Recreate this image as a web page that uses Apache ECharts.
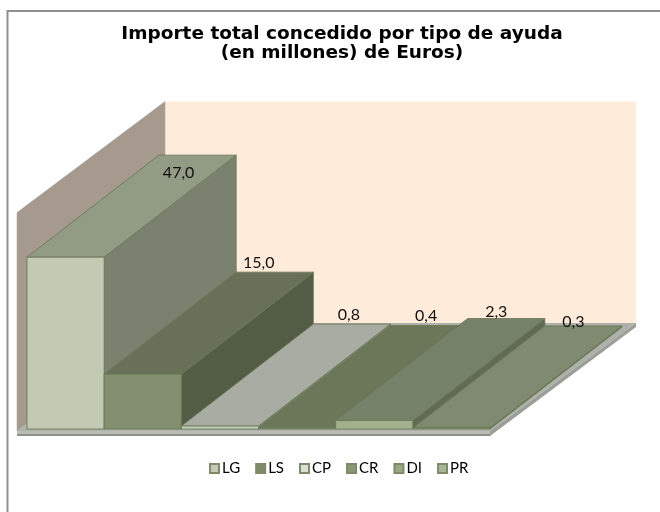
<!DOCTYPE html>
<html>
<head>
<meta charset="utf-8">
<script src="https://cdn.jsdelivr.net/npm/echarts@6/dist/echarts.min.js"></script>
<style>html,body{margin:0;padding:0;background:#fff;}#c{width:660px;height:512px;}</style>
</head>
<body>
<div id="c"></div>
<script>
// ---- data ----
const categories = ['LG', 'LS', 'CP', 'CR', 'DI', 'PR'];
const values = [47.0, 15.0, 0.8, 0.4, 2.3, 0.3];
const titleLines = ['Importe total concedido por tipo de ayuda', '(en millones) de Euros)'];

// ---- style ----
const legendColors = ['#C3CBB5', '#7F8A6B', '#DCE0D3', '#8B9777', '#9CA885', '#A9B597'];
const frontColors = ['#C2CAB4', '#838F6E', '#C6CEBA', '#7E8B69', '#A3B08E', '#8A9679'];
const topColors = ['#929B84', '#687157', '#A9ACA3', '#6C775A', '#76816A', '#7F8A70'];
const sideColors = ['#7B816F', '#535C45', '#8E918A', '#59634A', '#606B52', '#6C7660'];
const labelOffsets = [[-19, 18], [-16, -9], [-3, -9], [-3, -10], [-10, -7], [-10, -4]];
const BAR_DX = 132, BAR_DY = -102;
const WALL_DX = 148, WALL_DY = -108;

function fmt(v) { return v.toFixed(1).replace('.', ','); }

const chart = echarts.init(document.getElementById('c'), null, { renderer: 'canvas' });

function wallsRender(params, api) {
  const cs = params.coordSys;
  const xl = cs.x - 10, xr = cs.x + cs.width;
  const yb = cs.y + cs.height + 2;
  const yt = cs.y + 3;
  const bx = xl + WALL_DX, by = yb + WALL_DY;
  const btop = yt + WALL_DY - 3;
  const bxr = xr + WALL_DX - 2;
  return {
    type: 'group',
    children: [
      { type: 'rect', shape: { x: bx, y: btop, width: bxr - bx, height: by - btop }, style: { fill: '#FEEBD9' } },
      { type: 'polygon', shape: { points: [[xl, yt], [bx, btop], [bx, by], [xl, yb]] }, style: { fill: '#A59A8D', stroke: '#A8A094', lineWidth: 0.5 } },
      { type: 'polygon', shape: { points: [[xl, yb], [bx, by], [bxr, by], [xr, yb]] }, style: { fill: '#AEB0AA' } },
      { type: 'polygon', shape: { points: [[xr, yb], [bxr, by], [bxr, by + 4], [xr, yb + 5]] }, style: { fill: '#9C9E99' } },
      { type: 'rect', shape: { x: xl, y: yb, width: xr - xl, height: 3 }, style: { fill: '#BABCB6' } },
      { type: 'rect', shape: { x: xl, y: yb + 3, width: xr - xl, height: 2 }, style: { fill: '#8E908B' } }
    ]
  };
}

function barRender(i) {
  return function (params, api) {
    const c0 = api.coord([api.value(0), 0]);
    const c1 = api.coord([api.value(0), api.value(1)]);
    const bw = api.size([1, 0])[0];
    const x0 = c0[0] - bw / 2, x1 = c0[0] + bw / 2;
    const yb = c0[1], yt = c1[1];
    const stroke = 'rgba(105,120,85,0.85)';
    const lx = (x0 + x1) / 2 + BAR_DX + labelOffsets[i][0];
    const ly = yt + BAR_DY + labelOffsets[i][1];
    return {
      type: 'group',
      children: [
        { type: 'polygon', shape: { points: [[x1, yt], [x1 + BAR_DX, yt + BAR_DY], [x1 + BAR_DX, yb + BAR_DY], [x1, yb]] }, style: { fill: sideColors[i], stroke: stroke, lineWidth: 1 } },
        { type: 'polygon', shape: { points: [[x0, yt], [x1, yt], [x1 + BAR_DX, yt + BAR_DY], [x0 + BAR_DX, yt + BAR_DY]] }, style: { fill: topColors[i], stroke: stroke, lineWidth: 1 } },
        { type: 'rect', shape: { x: x0, y: yt, width: x1 - x0, height: yb - yt }, style: { fill: frontColors[i], stroke: stroke, lineWidth: 1 } },
        { type: 'text', z2: 100, style: { x: lx, y: ly, text: fmt(api.value(1)), fill: '#111', font: '16px Lato', textAlign: 'center', textVerticalAlign: 'middle' } }
      ]
    };
  };
}

const series = [{
  type: 'custom', name: '_walls', z: 1, silent: true,
  data: [[0, 0]], renderItem: wallsRender
}];
categories.forEach(function (cat, i) {
  series.push({
    type: 'custom', name: cat, z: 2 + i, silent: true,
    itemStyle: { color: legendColors[i], borderColor: '#7E8A6A', borderWidth: 1 },
    data: [[i, values[i]]],
    renderItem: barRender(i)
  });
});

chart.setOption({
  animation: false,
  backgroundColor: '#ffffff',
  title: {
    text: titleLines.join('\n'),
    left: 337, top: 20, textAlign: 'center',
    textStyle: { fontFamily: 'DejaVu Sans', fontWeight: 'bold', fontSize: 18.5, lineHeight: 19, color: '#000' }
  },
  legend: {
    data: categories,
    left: 204, top: 456,
    icon: 'rect', itemWidth: 9, itemHeight: 9, itemGap: 15,
    textStyle: { fontFamily: 'Lato', fontSize: 15, color: '#000', padding: [0, 0, 0, -2] }
  },
  grid: { left: 27, right: 170, top: 209.6, bottom: 83 },
  xAxis: { type: 'category', data: categories, show: false, boundaryGap: true },
  yAxis: { type: 'value', min: 0, max: 60, show: false },
  graphic: [{
    type: 'rect', z: 0, silent: true,
    shape: { x: 7.5, y: 11, width: 700, height: 600 },
    style: { fill: 'none', stroke: '#8F8F8F', lineWidth: 2 }
  }],
  series: series
});
</script>
</body>
</html>
